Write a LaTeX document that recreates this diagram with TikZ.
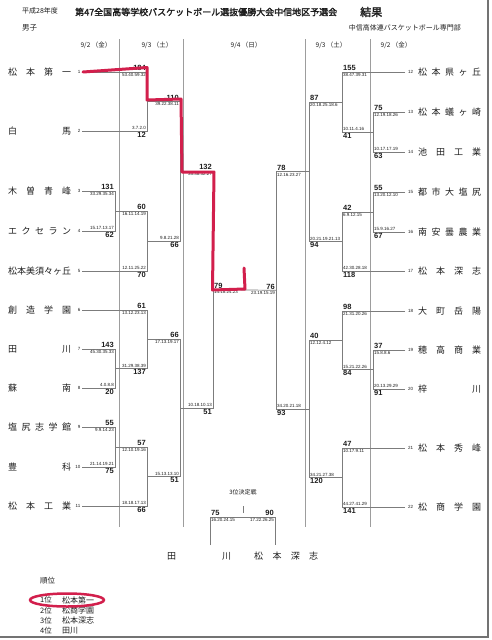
\documentclass[tikz,border=0pt]{standalone}
\usepackage{fontspec}
\setmainfont{Liberation Sans}
\newfontfamily\jp{Noto Sans CJK JP}
\newfontfamily\jpb[FakeBold=2]{Noto Sans CJK JP}
\usetikzlibrary{calc,positioning}
\definecolor{ink}{HTML}{1E1E1E}
\definecolor{rule}{HTML}{7C7C7C}
\definecolor{marker}{HTML}{D21F4C}

\tikzset{
  tname/.style={anchor=west, inner sep=0pt, font=\jp\fontsize{9}{9}\selectfont, text=ink},
  tnum/.style={inner sep=0pt, font=\fontsize{4.5}{4.5}\selectfont, text=ink},
  bline/.style={draw=rule, line width=0.7pt},
  colsep/.style={draw=rule!75, line width=0.6pt},
  score/.style={inner sep=1pt, font=\bfseries\fontsize{7.5}{7.5}\selectfont, text=ink},
  sets/.style={inner sep=1pt, font=\fontsize{4.5}{4.5}\selectfont, text=ink},
  head/.style={inner sep=0pt, text=ink, font=\jp\fontsize{7}{7}\selectfont},
  pen/.style={draw=marker, line width=3pt, line cap=round, line join=round},
}

% left half: scores right-aligned at the column
\newcommand{\lgame}[8]{%
  \draw[bline] (#1) -- (#1 -| #3) -- (#2 -| #3) -- (#2);
  \coordinate (#4) at ($(#1 -| #3)!0.5!(#2 -| #3)$);
  \node[score, above left] (#4-a) at (#1 -| #3) {#5};
  \node[sets, below left] (#4-b) at (#1 -| #3) {#6};
  \node[sets, above left] (#4-c) at (#2 -| #3) {#7};
  \node[score, below left] (#4-d) at (#2 -| #3) {#8};
}
% right half: scores left-aligned at the column
\newcommand{\rgame}[8]{%
  \draw[bline] (#1) -- (#1 -| #3) -- (#2 -| #3) -- (#2);
  \coordinate (#4) at ($(#1 -| #3)!0.5!(#2 -| #3)$);
  \node[score, above right] (#4-a) at (#1 -| #3) {#5};
  \node[sets, below right] (#4-b) at (#1 -| #3) {#6};
  \node[sets, above right] (#4-c) at (#2 -| #3) {#7};
  \node[score, below right] (#4-d) at (#2 -| #3) {#8};
}

\begin{document}
\begin{tikzpicture}[x=1pt, y=-1pt]
  \useasboundingbox (0,0) rectangle (492,640);
  \fill[white] (0,0) rectangle (492,640);

  % header
  \node[head, anchor=west] (year) at (22,11) {平成28年度};
  \node[head, anchor=west, font=\jpb\fontsize{9}{9}\selectfont] (title) at (75,12) {第47全国高等学校バスケットボール選抜優勝大会中信地区予選会};
  \node[head, anchor=west, font=\jpb\fontsize{11}{11}\selectfont] (result) at (360,12) {結果};
  \node[head, anchor=west, font=\jp\fontsize{7.5}{7.5}\selectfont] (boys) at (22,28) {男子};
  \node[head, anchor=east] (org) at (461,28) {中信高体連バスケットボール専門部};
  \foreach \dd/\xx [count=\i] in {{9/2\ （金）}/96, {9/3\ （土）}/157, {9/4\ （日）}/246, {9/3\ （土）}/331, {9/2\ （金）}/396}
    \node[head, font=\jp\fontsize{6.5}{6.5}\selectfont] (day\i) at (\xx,45) {\dd};

  % day columns
  \foreach \xx in {119,183,305,370}
    \draw[colsep] (\xx,39) -- (\xx,527);

  % teams
  \foreach \nm/\yy [count=\i] in {
      {松\hfill 本\hfill 第\hfill 一}/72, {白\hfill 馬}/131, {木\hfill 曽\hfill 青\hfill 峰}/191,
      {エ\hfill ク\hfill セ\hfill ラ\hfill ン}/231, {松\hfill 本\hfill 美\hfill 須\hfill 々\hfill ヶ\hfill 丘}/271,
      {創\hfill 造\hfill 学\hfill 園}/310, {田\hfill 川}/349, {蘇\hfill 南}/388,
      {塩\hfill 尻\hfill 志\hfill 学\hfill 館}/427, {豊\hfill 科}/467, {松\hfill 本\hfill 工\hfill 業}/506} {
    \node[tname] (L\i) at (8,\yy) {\makebox[63pt][s]{\nm}};
    \node[tnum, anchor=east] (nL\i) at (80.5,\yy) {\i};
    \coordinate (p\i) at (82,\yy);
  }
  \foreach \nm/\yy [count=\i from 12] in {
      {松\hfill 本\hfill 県\hfill ヶ\hfill 丘}/72, {松\hfill 本\hfill 蟻\hfill ヶ\hfill 崎}/112, {池\hfill 田\hfill 工\hfill 業}/152,
      {都\hfill 市\hfill 大\hfill 塩\hfill 尻}/192, {南\hfill 安\hfill 曇\hfill 農\hfill 業}/232, {松\hfill 本\hfill 深\hfill 志}/271,
      {大\hfill 町\hfill 岳\hfill 陽}/311, {穂\hfill 高\hfill 商\hfill 業}/350, {梓\hfill 川}/389,
      {松\hfill 本\hfill 秀\hfill 峰}/448, {松\hfill 商\hfill 学\hfill 園}/507} {
    \node[tname] (R\i) at (418,\yy) {\makebox[63pt][s]{\nm}};
    \node[tnum, anchor=west] (nR\i) at (408,\yy) {\i};
    \coordinate (p\i) at (405,\yy);
  }

  % bracket columns
  \coordinate (c1) at (115,0);
  \coordinate (c2) at (147,0);
  \coordinate (c3) at (180,0);
  \coordinate (c4) at (213,0);
  \coordinate (d1) at (373,0);
  \coordinate (d2) at (342,0);
  \coordinate (d3) at (309,0);
  \coordinate (d4) at (276,0);

  % left half
  \lgame{p3}{p4}{c1}{w34}{131}{33.29.35.34}{15.17.13.17}{62}
  \lgame{p7}{p8}{c1}{w78}{143}{45.30.35.33}{4.0.8.8}{20}
  \lgame{p9}{p10}{c1}{w910}{55}{9.9.14.23}{21.14.19.21}{75}
  \lgame{p1}{p2}{c2}{w12}{184}{53.40.59.32}{3.7.2.0}{12}
  \lgame{w34}{p5}{c2}{w345}{60}{16.11.14.19}{12.11.25.22}{70}
  \lgame{p6}{w78}{c2}{w678}{61}{13.12.23.13}{31.29.38.39}{137}
  \lgame{w910}{p11}{c2}{w911}{57}{12.10.19.16}{18.18.17.13}{66}
  \lgame{w12}{w345}{c3}{wA}{110}{39.22.38.11}{9.8.21.28}{66}
  \lgame{w678}{w911}{c3}{wB}{66}{17.13.19.17}{15.13.13.10}{51}
  \lgame{wA}{wB}{c4}{wL}{132}{35.38.32.27}{10.18.10.13}{51}

  % right half
  \rgame{p13}{p14}{d1}{v1314}{75}{12.19.18.26}{10.17.17.19}{63}
  \rgame{p15}{p16}{d1}{v1516}{55}{13.20.12.10}{15.9.16.27}{67}
  \rgame{p19}{p20}{d1}{v1920}{37}{15.8.8.6}{20.13.29.29}{91}
  \rgame{p12}{v1314}{d2}{v1214}{155}{38.47.39.31}{10.11.4.16}{41}
  \rgame{v1516}{p17}{d2}{v1517}{42}{6.9.12.15}{42.30.28.18}{118}
  \rgame{p18}{v1920}{d2}{v1820}{98}{21.31.20.26}{15.21.22.26}{84}
  \rgame{p21}{p22}{d2}{v2122}{47}{10.17.9.11}{44.27.41.29}{141}
  \rgame{v1214}{v1517}{d3}{vA}{87}{20.18.25.18.6}{20.21.19.21.13}{94}
  \rgame{v1820}{v2122}{d3}{vB}{40}{12.12.4.12}{34.21.27.38}{120}
  \rgame{vA}{vB}{d4}{wR}{78}{12.16.23.27}{34.20.21.18}{93}

  % final
  \draw[bline] (wL) -- (wR);
  \node[score, above right] (fin-a) at (wL) {79};
  \node[sets, below right] (fin-b) at (wL) {14.18.24.23};
  \node[score, above left] (fin-c) at (wR) {76};
  \node[sets, below left] (fin-d) at (wR) {23.19.15.19};

  % third place
  \node[head, font=\jp\fontsize{6}{6}\selectfont] (third) at (243,492) {3位決定戦};
  \coordinate (q3top) at (243,517);
  \coordinate (q3a) at (210,545);
  \coordinate (q3b) at (275,545);
  \coordinate (q3tick) at (243,513);
  \draw[bline] (q3a) -- (q3a |- q3top) -- (q3b |- q3top) -- (q3b);
  \draw[bline] (q3tick) -- ++(0,-7);
  \node[score, above right] (q3-a) at (q3a |- q3top) {75};
  \node[sets, below right] (q3-b) at (q3a |- q3top) {16.20.24.15};
  \node[score, above left] (q3-c) at (q3b |- q3top) {90};
  \node[sets, below left] (q3-d) at (q3b |- q3top) {17.22.26.25};
  \node[tname] (q3n1) at (167,556) {\makebox[64pt][s]{田\hfill 川}};
  \node[tname] (q3n2) at (254,556) {\makebox[64pt][s]{松\hfill 本\hfill 深\hfill 志}};

  % ranking
  \node[head, anchor=west, font=\jp\fontsize{7.5}{7.5}\selectfont] (rank) at (40,581) {順位};
  \foreach \nm [count=\i, evaluate=\i as \yy using 589.7+10.3*\i] in {松本第一, 松商学園, 松本深志, 田川} {
    \node[head, anchor=west, font=\jp\fontsize{7.5}{7.5}\selectfont] (rk\i) at (40,\yy) {\i{}位};
    \node[head, anchor=west, font=\jp\fontsize{8}{8}\selectfont] (rn\i) at (62,\yy) {\nm};
  }

  % red marker
  \draw[pen] (83,72) -- (147,67.5) -- (147,100) -- (181,99) -- (182,172) -- (214,172) -- (212.5,290) -- (245,289) -- (244,268);
  \draw[pen, line width=2.5pt] (67,600) ellipse [x radius=37, y radius=6.5];

  % scan edge
  \draw[line width=2pt, draw=black!55] (488,0) -- (488,637) -- (0,637);
\end{tikzpicture}
\end{document}
